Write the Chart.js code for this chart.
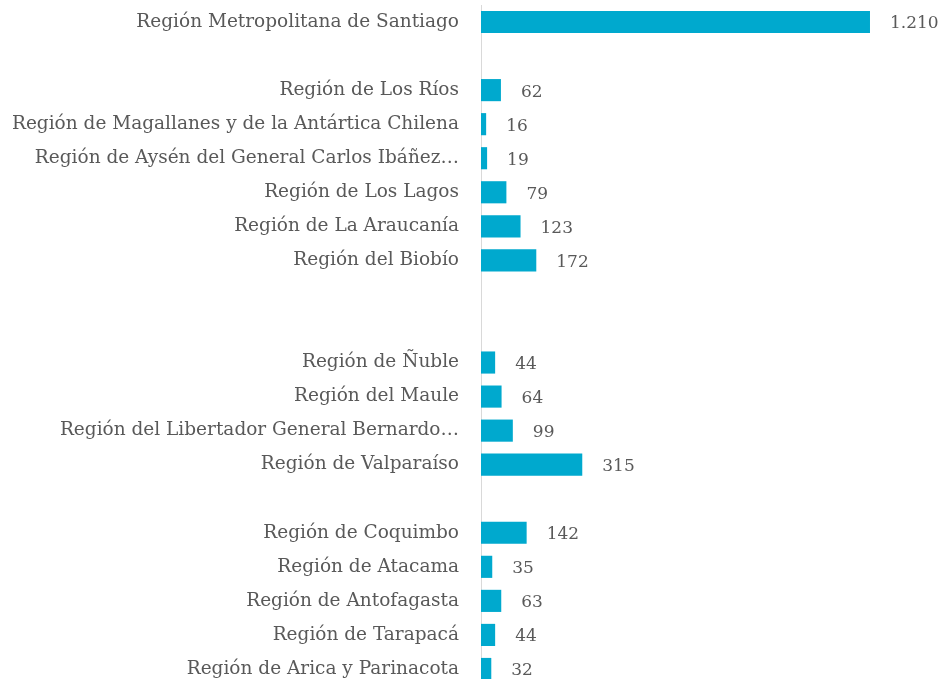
<!DOCTYPE html>
<html>
<head>
<meta charset="utf-8">
<script src="https://cdn.jsdelivr.net/npm/chart.js@4/dist/chart.umd.min.js"></script>
<style>
  html, body { margin: 0; padding: 0; background: #fff; overflow: hidden; }
</style>
</head>
<body>
<canvas id="regionChart" width="942" height="690"></canvas>
<script>
// Regions, top to bottom (empty strings are the gaps between groups)
const regions = [
  'Región Metropolitana de Santiago',
  '',
  'Región de Los Ríos',
  'Región de Magallanes y de la Antártica Chilena',
  'Región de Aysén del General Carlos Ibáñez…',
  'Región de Los Lagos',
  'Región de La Araucanía',
  'Región del Biobío',
  '',
  '',
  'Región de Ñuble',
  'Región del Maule',
  'Región del Libertador General Bernardo…',
  'Región de Valparaíso',
  '',
  'Región de Coquimbo',
  'Región de Atacama',
  'Región de Antofagasta',
  'Región de Tarapacá',
  'Región de Arica y Parinacota'
];

const counts = [
  1210, null, 62, 16, 19, 79, 123, 172, null, null,
  44, 64, 99, 315, null, 142, 35, 63, 44, 32
];

const textColor = '#595959';
const fontFamily = "'DejaVu Serif', serif";

// Spanish thousands separator: 1210 -> "1.210"
function formatNumber(v) {
  return String(v).replace(/\B(?=(\d{3})+(?!\d))/g, '.');
}

// Draw the value to the right of each bar
const valueLabels = {
  id: 'valueLabels',
  afterDatasetsDraw(chart) {
    const ctx = chart.ctx;
    const meta = chart.getDatasetMeta(0);
    ctx.save();
    ctx.fillStyle = textColor;
    ctx.font = '17px ' + fontFamily;
    ctx.textAlign = 'left';
    ctx.textBaseline = 'middle';
    meta.data.forEach((bar, i) => {
      const v = chart.data.datasets[0].data[i];
      if (v === null) return;
      ctx.fillText(formatNumber(v), bar.x + 20, bar.y + 2);
    });
    ctx.restore();
  }
};

const ctx = document.getElementById('regionChart').getContext('2d');
new Chart(ctx, {
  type: 'bar',
  data: {
    labels: regions,
    datasets: [{
      data: counts,
      backgroundColor: '#00A9CE',
      borderWidth: 0,
      categoryPercentage: 1,
      barPercentage: 0.65
    }]
  },
  options: {
    indexAxis: 'y',
    responsive: false,
    animation: false,
    layout: { padding: { top: 5, bottom: 4, left: 0, right: 0 } },
    plugins: {
      legend: { display: false },
      tooltip: { enabled: false }
    },
    scales: {
      x: {
        display: false,
        min: 0,
        max: 1434
      },
      y: {
        afterFit(scale) {
          scale.width = 481;
          // tick padding would otherwise push the plot down from the top
          scale.paddingTop = 0;
          scale.paddingBottom = 0;
        },
        grid: { display: false, drawTicks: false },
        border: { display: true, color: '#d9d9d9', width: 1 },
        ticks: {
          autoSkip: false,
          padding: 22,
          color: textColor,
          font: { family: fontFamily, size: 18.5 }
        }
      }
    }
  },
  plugins: [valueLabels]
});
</script>
</body>
</html>
